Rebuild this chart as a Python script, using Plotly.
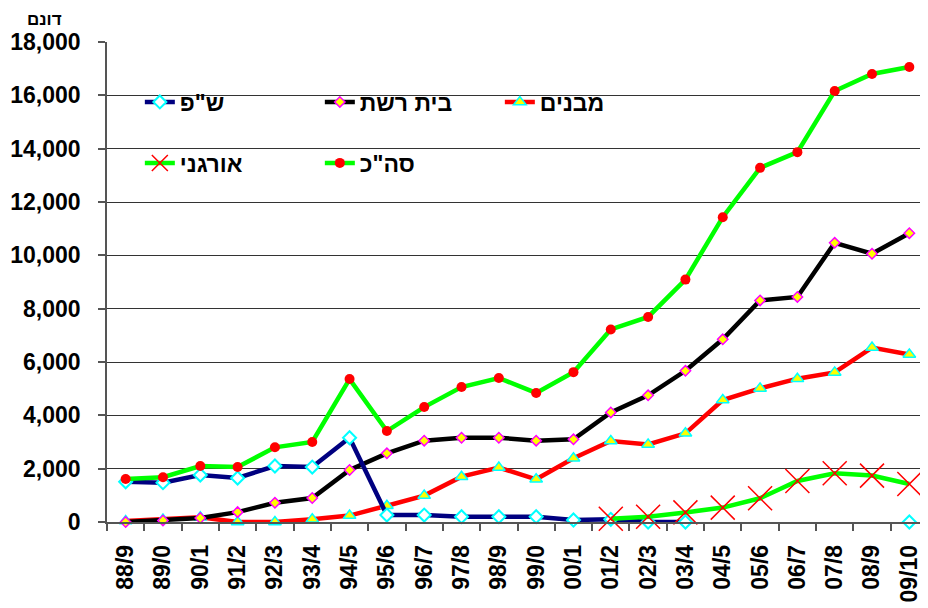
import plotly.graph_objects as go

categories = ["88/9", "89/0", "90/1", "91/2", "92/3", "93/4", "94/5", "95/6", "96/7", "97/8", "98/9",
              "99/0", "00/1", "01/2", "02/3", "03/4", "04/5", "05/6", "06/7", "07/8", "08/9", "09/10"]

shp = [1510, 1475, 1760, 1650, 2100, 2060, 3160, 260, 260, 200, 200,
       200, 75, 100, 0, 0, None, None, None, None, None, 0]
beit_reshet = [0, 60, 150, 370, 720, 900, 1950, 2575, 3050, 3160, 3160,
               3050, 3100, 4110, 4750, 5670, 6850, 8310, 8440, 10470, 10060, 10830]
mivnim = [40, 90, 175, 0, 0, 100, 240, 610, 990, 1700, 2040,
          1600, 2390, 3040, 2910, 3325, 4575, 5010, 5375, 5610, 6540, 6280]
organi = [None, None, None, None, None, None, None, None, None, None, None,
          None, None, 120, 200, 360, 540, 890, 1540, 1825, 1740, 1425]
total = [1610, 1680, 2100, 2060, 2800, 3000, 5360, 3410, 4310, 5060, 5400,
         4840, 5620, 7220, 7690, 9090, 11430, 13280, 13870, 16160, 16800, 17060]

y_ticks = list(range(0, 18001, 2000))
y_ticktext = [f"{v:,}" for v in y_ticks]

FONT = "Liberation Sans, Arial, sans-serif"
LW = 4.5

fig = go.Figure()

fig.add_trace(go.Scatter(
    x=categories, y=mivnim, name="מבנים", mode="lines+markers",
    line=dict(color="#FF0000", width=LW),
    marker=dict(symbol="triangle-up", size=11, color="#FFFF00", line=dict(color="#00FFFF", width=1.5)),
    legend="legend", legendrank=3, cliponaxis=False))

fig.add_trace(go.Scatter(
    x=categories, y=beit_reshet, name="בית רשת", mode="lines+markers",
    line=dict(color="#000000", width=LW),
    marker=dict(symbol="diamond", size=8, color="#FFFF00", line=dict(color="#FF00FF", width=1.5)),
    legend="legend", legendrank=2, cliponaxis=False))

fig.add_trace(go.Scatter(
    x=categories, y=shp, name='ש"פ', mode="lines+markers",
    line=dict(color="#000080", width=LW),
    marker=dict(symbol="diamond", size=10, color="#FFFFFF", line=dict(color="#00FFFF", width=2)),
    connectgaps=False,
    legend="legend", legendrank=1, cliponaxis=False))

fig.add_trace(go.Scatter(
    x=categories, y=organi, name="אורגני", mode="lines+markers",
    line=dict(color="#00FF00", width=LW),
    marker=dict(symbol="x-thin", size=24, color="#FF0000", line=dict(color="#FF0000", width=1.5)),
    legend="legend2", legendrank=1, cliponaxis=False))

fig.add_trace(go.Scatter(
    x=categories, y=total, name='סה"כ', mode="lines+markers",
    line=dict(color="#00FF00", width=LW),
    marker=dict(symbol="circle", size=10, color="#FF0000", line=dict(width=0)),
    legend="legend2", legendrank=2, cliponaxis=False))

legend_common = dict(
    orientation="h", entrywidth=135, entrywidthmode="pixels",
    font=dict(family=FONT, size=23, color="#000000", weight="bold"),
    bgcolor="rgba(0,0,0,0)", xanchor="left", yanchor="middle",
    traceorder="normal", itemwidth=30,
)

fig.update_layout(
    width=920, height=600,
    margin=dict(l=99, r=0, t=34, b=86),
    paper_bgcolor="#FFFFFF", plot_bgcolor="#FFFFFF",
    font=dict(family=FONT, color="#000000"),
    showlegend=True,
    legend=dict(x=0.04, y=0.875, **legend_common),
    legend2=dict(x=0.04, y=0.748, **legend_common),
    xaxis=dict(
        type="category", categoryorder="array", categoryarray=categories,
        tickangle=-90, tickfont=dict(family=FONT, size=23, color="#000000", weight="bold"),
        ticks="outside", ticklen=7, tickcolor="#555555", tickwidth=1.5, tickson="boundaries",
        showline=True, linecolor="#555555", linewidth=1.5, showgrid=False,
        range=[-0.5, len(categories) - 0.5], ticklabelstandoff=12,
    ),
    yaxis=dict(
        range=[0, 18000], tickvals=y_ticks, ticktext=y_ticktext,
        tickfont=dict(family=FONT, size=23, color="#000000", weight="bold"),
        ticks="outside", ticklen=7, tickcolor="#555555", tickwidth=1.5,
        showline=True, linecolor="#555555", linewidth=1.5,
        showgrid=True, gridcolor="#333333", gridwidth=1, zeroline=False,
        ticklabelstandoff=13,
    ),
    annotations=[dict(
        text="דונם", xref="paper", yref="paper",
        x=(45 - 107) / 821, y=1 + (42 - 19) / 480,
        xanchor="center", yanchor="middle", showarrow=False,
        font=dict(family=FONT, size=17, color="#000000", weight="bold"),
    )],
)

fig.write_html("out.html")
